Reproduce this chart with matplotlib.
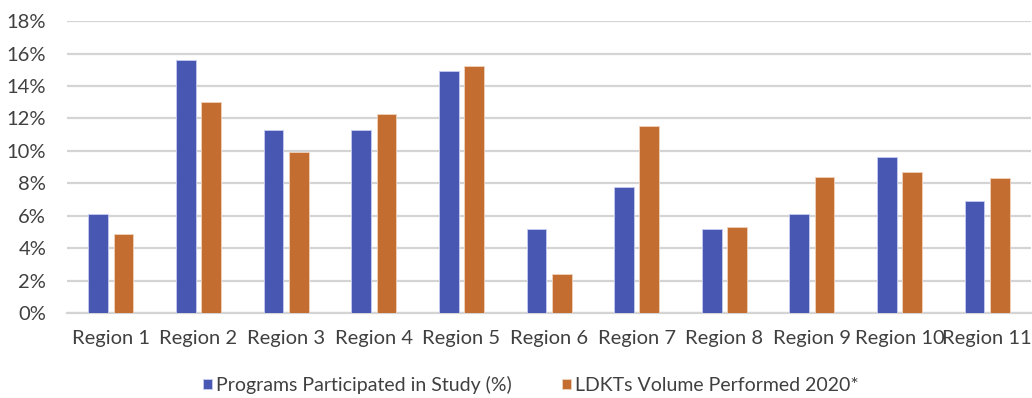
import matplotlib
matplotlib.use("Agg")
import matplotlib.pyplot as plt
from matplotlib.ticker import FuncFormatter, MultipleLocator
import numpy as np

regions = ["Region 1", "Region 2", "Region 3", "Region 4", "Region 5", "Region 6",
           "Region 7", "Region 8", "Region 9", "Region 10", "Region 11"]
programs_pct = [6.1, 15.6, 11.3, 11.3, 14.9, 5.2, 7.8, 5.2, 6.1, 9.6, 6.9]
ldkt_pct = [4.9, 13.0, 9.9, 12.3, 15.2, 2.4, 11.5, 5.3, 8.4, 8.7, 8.3]
series_names = ["Programs Participated in Study (%)", "LDKTs Volume Performed 2020*"]

plt.rcParams["font.family"] = ["Lato", "DejaVu Sans"]

fig = plt.figure(figsize=(10.32, 3.98), dpi=100)
ax = fig.add_axes([0.065, 0.2136, 0.934, 0.7334])

x = np.arange(len(regions))
w = 0.225
off = 0.144
blue = "#4858B2"
orange = "#C46D30"
ax.bar(x - off, programs_pct, w, color=blue, edgecolor="#c8cdf0", linewidth=0.6,
       label=series_names[0], zorder=3)
ax.bar(x + off, ldkt_pct, w, color=orange, edgecolor="#f0d2bd", linewidth=0.6,
       label=series_names[1], zorder=3)

ax.set_xlim(-0.5, len(regions) - 0.5)
ax.set_ylim(0, 18)
ax.yaxis.set_major_locator(MultipleLocator(2))
ax.yaxis.set_major_formatter(FuncFormatter(lambda v, p: f"{v:.0f}%"))
ax.grid(axis="y", color="#d4d4d4", linewidth=1.6, zorder=0)
ax.set_xticks(x)
ax.set_xticklabels(regions)
for s in ["top", "right", "left"]:
    ax.spines[s].set_visible(False)
ax.spines["bottom"].set_color("#d4d4d4")
ax.spines["bottom"].set_linewidth(1.6)
ax.tick_params(axis="both", length=0, labelsize=14.5, colors="#404040")
ax.tick_params(axis="y", pad=15)
ax.tick_params(axis="x", pad=12)

fig.legend(loc="center", bbox_to_anchor=(0.5145, 0.033), ncol=2, frameon=False,
           fontsize=14, handlelength=0.45, handleheight=0.45, handletextpad=0.2,
           columnspacing=2.6, labelcolor="#404040")

fig.savefig("out.png", dpi=100)
